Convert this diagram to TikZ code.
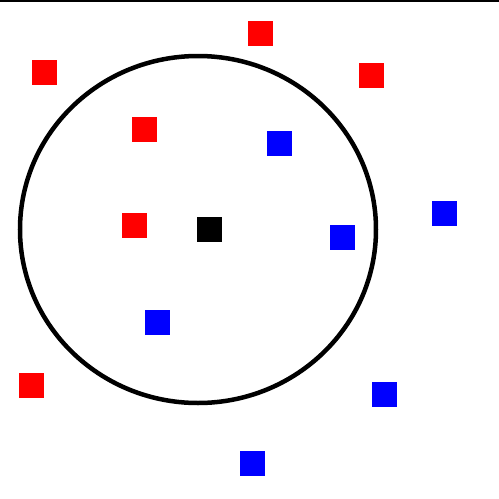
\documentclass[tikz,border=0pt]{standalone}
\begin{document}
\begin{tikzpicture}[x=1pt,y=-1pt,
  sq/.style={minimum size=25pt,inner sep=0pt,outer sep=0pt},
  redsq/.style={sq,fill=red},
  bluesq/.style={sq,fill=blue},
  blacksq/.style={sq,fill=black}]
\useasboundingbox (0,0) rectangle (499,499);
\fill[white] (0,0) rectangle (499,499);
\draw[line width=1.5pt] (0,0.8) -- (499,0.8);
\draw[line width=4.5pt] (198,229.5) ellipse [x radius=178, y radius=173.5];
\node[blacksq] (q) at (209,229) {};
\node[redsq] (r1) at (260,33.5) {};
\node[redsq] (r2) at (44,72.5) {};
\node[redsq] (r3) at (371,75) {};
\node[redsq] (r4) at (144,129) {};
\node[redsq] (r5) at (134,225) {};
\node[redsq] (r6) at (31,385) {};
\node[bluesq] (b1) at (279.5,143.5) {};
\node[bluesq] (b2) at (444,213) {};
\node[bluesq] (b3) at (342,237) {};
\node[bluesq] (b4) at (157,322) {};
\node[bluesq] (b5) at (384,394) {};
\node[bluesq] (b6) at (252.5,463) {};
\end{tikzpicture}
\end{document}
